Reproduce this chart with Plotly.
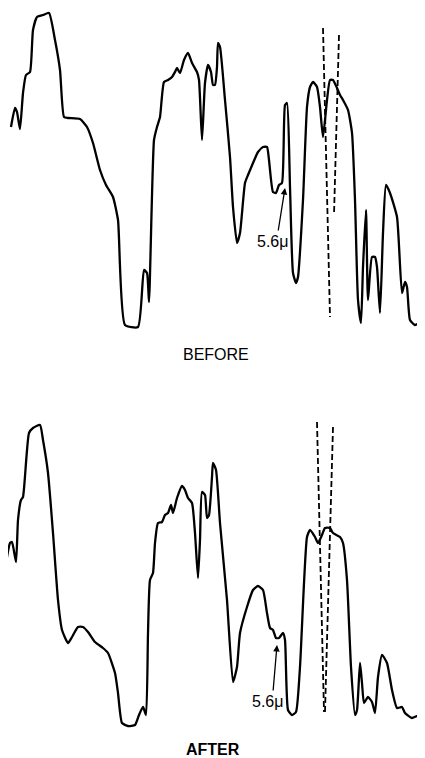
import plotly.graph_objects as go

# BEFORE spectrum trace (horizontal position, vertical position on page)
before_x = [11, 15, 17, 20, 23, 26, 30, 33, 37, 43, 49, 55, 60, 64, 68, 80, 87, 93, 100, 106, 113, 118,
            125, 138, 144, 147, 149, 154, 157, 160, 164, 168, 172, 175, 177, 180, 184, 188, 192, 197, 199,
            202, 205, 208, 211, 213, 215, 217, 218, 220, 225, 230, 233, 237, 240, 245, 248, 253, 258, 263,
            267, 269, 273, 276, 279, 282, 285, 287, 290, 293, 296, 298, 303, 307, 310, 313, 317, 320, 323,
            327, 330, 333, 337, 340, 343, 348, 352, 355, 358, 361, 363, 366, 368, 372, 375, 377, 380, 383,
            386, 390, 397, 402, 405, 407, 410, 415, 420, 425]
before_y = [127, 108, 112, 129, 93, 75, 72, 30, 17, 15, 13, 40, 70, 117, 118, 119, 127, 143, 170, 185, 197, 220,
            325, 327, 270, 273, 302, 140, 127, 117, 82, 80, 77, 72, 68, 73, 60, 53, 63, 72, 80,
            140, 83, 65, 72, 85, 85, 67, 43, 47, 100, 157, 207, 243, 233, 183, 175, 163, 152, 147,
            147, 160, 192, 193, 185, 183, 105, 103, 187, 273, 283, 277, 200, 107, 87, 82, 87, 107, 137,
            100, 80, 80, 88, 95, 100, 110, 133, 200, 300, 323, 267, 210, 300, 257, 257, 267, 313, 233,
            185, 193, 217, 293, 282, 287, 320, 325, 323, 322]

# AFTER spectrum trace
after_x = [6, 10, 12, 16, 18, 21, 23, 29, 33, 40, 43, 48, 53, 58, 62, 68, 72, 78, 83, 88, 95, 103, 108,
           115, 118, 122, 128, 135, 139, 143, 146, 148, 150, 153, 155, 158, 162, 165, 168, 171, 173, 177,
           182, 185, 188, 192, 195, 198, 200, 202, 205, 207, 209, 212, 213, 216, 220, 227, 233, 237, 240,
           247, 253, 258, 263, 267, 270, 273, 276, 279, 283, 285, 288, 292, 296, 300, 307, 310, 315, 318,
           322, 325, 330, 333, 340, 343, 347, 351, 355, 357, 360, 362, 364, 368, 372, 375, 378, 382, 387,
           392, 397, 402, 405, 412, 417, 425]
after_y = [563, 543, 542, 562, 520, 500, 497, 433, 428, 425, 440, 473, 533, 600, 630, 643, 637, 627, 627, 632,
           642, 648, 653, 673, 693, 723, 726, 725, 715, 707, 715, 633, 580, 573, 543, 523, 522, 515, 513, 505,
           513, 498, 486, 490, 498, 503, 533, 578, 540, 492, 495, 518, 515, 477, 463, 470, 523, 600, 682, 667,
           633, 607, 590, 586, 590, 613, 628, 630, 638, 638, 633, 640, 710, 715, 712, 667, 537, 530, 537, 543,
           535, 528, 528, 533, 537, 543, 580, 667, 715, 710, 663, 683, 703, 697, 702, 713, 677, 655, 663,
           690, 708, 707, 713, 718, 716, 715]

# dashed reference lines (start, end)
before_dash_a_x = [323, 330]
before_dash_a_y = [28, 317]
before_dash_b_x = [339, 334]
before_dash_b_y = [35, 215]
after_dash_a_x = [317, 324]
after_dash_a_y = [422, 712]
after_dash_b_x = [333, 325]
after_dash_b_y = [427, 712]

labels = ["BEFORE", "AFTER"]
peak_label = "5.6\u03bc"

fig = go.Figure()
line_style = dict(color="black", width=2.3, shape="spline", smoothing=0.5)
fig.add_trace(go.Scatter(x=before_x, y=before_y, mode="lines", line=line_style, hoverinfo="skip"))
fig.add_trace(go.Scatter(x=after_x, y=after_y, mode="lines", line=line_style, hoverinfo="skip"))
dash_style = dict(color="black", width=1.8, dash="6px,3px")
for xs, ys in [(before_dash_a_x, before_dash_a_y), (before_dash_b_x, before_dash_b_y),
               (after_dash_a_x, after_dash_a_y), (after_dash_b_x, after_dash_b_y)]:
    fig.add_trace(go.Scatter(x=xs, y=ys, mode="lines", line=dash_style, hoverinfo="skip"))

font_lbl = dict(family="Liberation Sans Narrow, Liberation Sans, Arial", size=16, color="black")
fig.add_annotation(x=216, y=354, text=labels[0], showarrow=False, font=font_lbl, xref="x", yref="y")
fig.add_annotation(x=213, y=749, text="<b>" + labels[1] + "</b>", showarrow=False, font=font_lbl,
                   xref="x", yref="y")

font_pk = dict(family="Liberation Sans, Arial", size=16, color="black")
fig.add_annotation(x=272, y=241, text=peak_label, showarrow=False, font=font_pk, xref="x", yref="y")
fig.add_annotation(x=285, y=188, ax=278, ay=232, xref="x", yref="y", axref="x", ayref="y",
                   text="", showarrow=True, arrowhead=2, arrowsize=1, arrowwidth=1.3, arrowcolor="black")
fig.add_annotation(x=267, y=701, text=peak_label, showarrow=False, font=font_pk, xref="x", yref="y")
fig.add_annotation(x=277, y=645, ax=273, ay=692, xref="x", yref="y", axref="x", ayref="y",
                   text="", showarrow=True, arrowhead=2, arrowsize=1, arrowwidth=1.3, arrowcolor="black")

# page body has an 8px margin, so the figure is 417x750 and axes start at page pixel 8
fig.update_layout(width=417, height=750, margin=dict(l=0, r=0, t=0, b=0),
                  paper_bgcolor="white", plot_bgcolor="white", showlegend=False)
fig.update_xaxes(range=[8, 425], visible=False)
fig.update_yaxes(range=[758, 8], visible=False)
fig.write_html("out.html")
